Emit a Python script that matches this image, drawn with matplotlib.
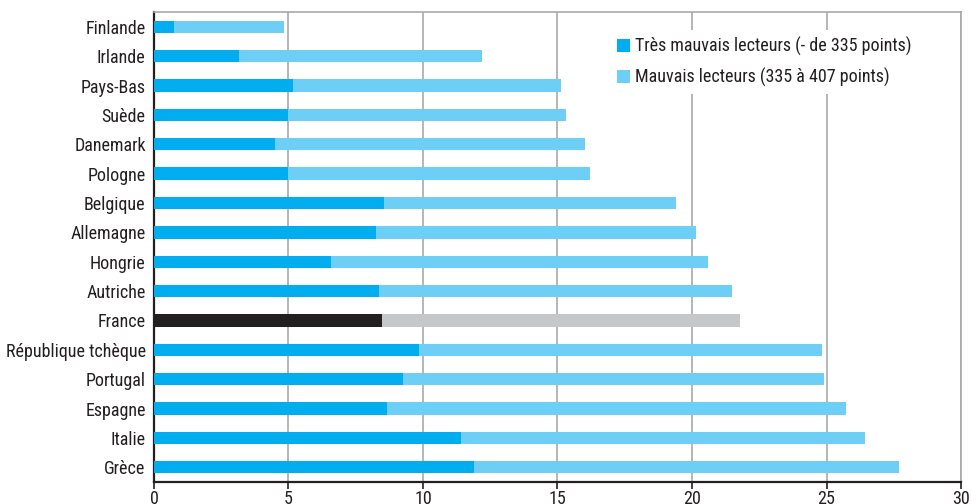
import matplotlib
matplotlib.use("Agg")
import matplotlib.pyplot as plt
from matplotlib.patches import Patch

countries = [
    "Finlande", "Irlande", "Pays-Bas", "Suède", "Danemark", "Pologne",
    "Belgique", "Allemagne", "Hongrie", "Autriche", "France",
    "République tchèque", "Portugal", "Espagne", "Italie", "Grèce",
]
tres_mauvais = [0.75, 3.17, 5.18, 5.0, 4.51, 5.0, 8.56, 8.27, 6.59, 8.38,
                8.49, 9.86, 9.27, 8.67, 11.42, 11.91]
total = [4.83, 12.2, 15.14, 15.33, 16.03, 16.22, 19.42, 20.16, 20.6, 21.5,
         21.8, 24.84, 24.92, 25.74, 26.44, 27.7]
mauvais = [t - m for t, m in zip(total, tres_mauvais)]

x_ticks = [0, 5, 10, 15, 20, 25, 30]

dark_blue = "#00AEEF"
light_blue = "#6DCFF6"
text_col = "#231F20"

plt.rcParams["font.family"] = ["Roboto Condensed", "Liberation Sans Narrow", "Roboto", "DejaVu Sans"]
fs = 13

fig = plt.figure(figsize=(9.72, 5.04), dpi=100)
ax = fig.add_axes([0.1584, 0.0437, 0.8303, 0.9323])

col1 = [("#231F20" if c == "France" else dark_blue) for c in countries]
col2 = [("#C6C7C8" if c == "France" else light_blue) for c in countries]

y = list(range(len(countries)))
ax.barh(y, tres_mauvais, height=0.42, color=col1, zorder=3)
ax.barh(y, mauvais, left=tres_mauvais, height=0.42, color=col2, zorder=3)

ax.set_xlim(0, 30)
ax.set_ylim(15.5, -0.5)
ax.set_yticks(y)
ax.set_yticklabels(countries, fontsize=fs, color=text_col)
ax.set_xticks(x_ticks)
ax.set_xticklabels([str(v) for v in x_ticks], fontsize=fs, color=text_col)
ax.tick_params(axis="y", length=0, pad=6)
ax.tick_params(axis="x", length=5, width=1.2, color=text_col, pad=0.5)

ax.grid(axis="x", color="#A7A9AC", linewidth=1.2, zorder=0)
ax.grid(axis="y", visible=False)
for side in ["top", "right"]:
    ax.spines[side].set_color("#A7A9AC")
    ax.spines[side].set_linewidth(1.2)
for side in ["left", "bottom"]:
    ax.spines[side].set_color(text_col)
    ax.spines[side].set_linewidth(1.6)

handles = [
    Patch(facecolor=dark_blue, label="Très mauvais lecteurs (- de 335 points)"),
    Patch(facecolor=light_blue, label="Mauvais lecteurs (335 à 407 points)"),
]
leg = ax.legend(handles=handles, loc="upper left", bbox_to_anchor=(0.554, 0.982),
                frameon=True, fontsize=fs, handlelength=0.7, handleheight=0.7,
                handletextpad=0.3, labelspacing=0.65, borderpad=0.4)
leg.get_frame().set_edgecolor("none")
leg.get_frame().set_facecolor("white")
leg.get_frame().set_alpha(1)
leg.set_zorder(5)
for t in leg.get_texts():
    t.set_color(text_col)

fig.savefig("out.png", dpi=100)
